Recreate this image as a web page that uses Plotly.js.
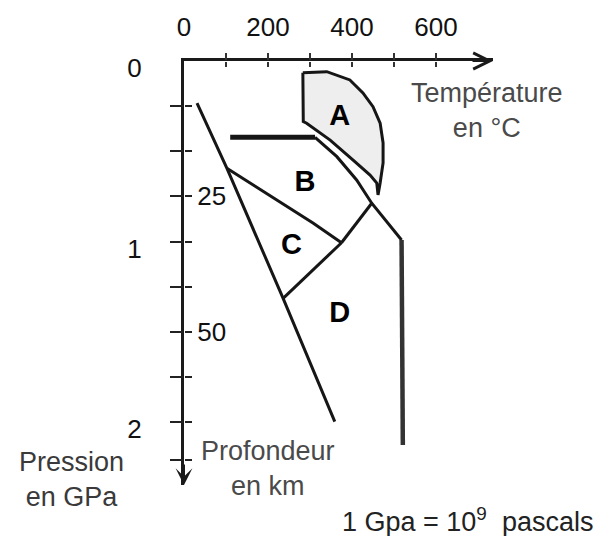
<!DOCTYPE html>
<html>
<head>
<meta charset="utf-8">
<script src="https://cdn.plot.ly/plotly-3.0.1.min.js"></script>
<style>html,body{margin:0;padding:0;background:#fff}#chart{width:609px;height:536px}</style>
</head>
<body>
<div id="chart"></div>
<script>
// ---- Axis ticks ----
const tempLabelVals = [0, 200, 400, 600];
const tempLabelText = ['0', '200', '400', '600'];
const tempTickVals = [100, 200, 300, 400, 500, 600];
const pressLabelVals = [0, 1, 2];
const pressLabelText = ['0', '1', '2'];
const pressTickVals = [0.25, 0.5, 0.75, 1, 1.25, 1.5, 1.75, 2, 2.21];
const depthTickText = ['', '', '25', '', '', '50', '', '', ''];

// ---- Domain A (°C, GPa) ----
const domainAT = [283, 340, 395, 426, 450, 467, 474, 474, 467, 462, 459, 443, 402, 348, 292, 284, 283];
const domainAP = [0.065, 0.059, 0.105, 0.177, 0.253, 0.344, 0.454, 0.565, 0.676, 0.742, 0.676, 0.632, 0.548, 0.438, 0.345, 0.336, 0.065];

// ---- Boundaries ----
const flatT = [110, 312];
const flatP = [0.423, 0.423];
const diagT = [312, 364, 411, 447, 518];
const diagP = [0.423, 0.530, 0.659, 0.788, 0.992];
const vertT = [518, 521];
const vertP = [0.992, 2.127];
const leftT = [31, 102, 236, 359];
const leftP = [0.233, 0.594, 1.315, 1.998];
const bcT = [102, 221, 308, 375];
const bcP = [0.594, 0.770, 0.899, 1.007];
const bdT = [375, 447];
const bdP = [1.007, 0.788];
const cdT = [375, 236];
const cdP = [1.007, 1.315];

// ---- Domain labels ----
const domainNames = ['A', 'B', 'C', 'D'];
const domainLabelT = [371, 288, 256, 371];
const domainLabelP = [0.316, 0.678, 1.029, 1.407];

const FONT = 'Liberation Sans, Arial, sans-serif';
const INK = '#161616';

function line(x, y, w, c) {
  return {type: 'scatter', mode: 'lines', x: x, y: y, line: {color: c || INK, width: w},
          hoverinfo: 'skip', xaxis: 'x', yaxis: 'y'};
}

const traces = [
  {type: 'scatter', mode: 'lines', x: domainAT, y: domainAP, fill: 'toself', fillcolor: '#eeeeee',
   line: {color: INK, width: 3}, hoverinfo: 'skip', xaxis: 'x', yaxis: 'y'},
  line(flatT, flatP, 5),
  line(diagT, diagP, 3),
  line(vertT, vertP, 4.5, '#333'),
  line(leftT, leftP, 3),
  line(bcT, bcP, 3),
  line(bdT, bdP, 3),
  line(cdT, cdP, 3),
  {type: 'scatter', mode: 'text', x: domainLabelT, y: domainLabelP, text: domainNames,
   textfont: {family: FONT, size: 29, color: '#000', weight: 700}, hoverinfo: 'skip', xaxis: 'x', yaxis: 'y'},
  // empty traces so the tick-only overlay axes get drawn
  {type: 'scatter', mode: 'markers', x: [null], y: [null], xaxis: 'x2', yaxis: 'y2', hoverinfo: 'skip'},
  {type: 'scatter', mode: 'markers', x: [null], y: [null], xaxis: 'x3', yaxis: 'y3', hoverinfo: 'skip'}
];

const xr = [0, 735.7];
const yr = [2.349, 0];

const layout = {
  width: 609, height: 536,
  margin: {l: 184, r: 116, t: 61, b: 51, pad: 0},
  paper_bgcolor: '#fff', plot_bgcolor: '#fff',
  showlegend: false,
  font: {family: FONT, color: '#111'},
  xaxis: {range: xr, side: 'top', showline: true, linecolor: '#1a1a1a', linewidth: 3,
          showgrid: false, zeroline: false, ticks: '', tickvals: tempLabelVals, ticktext: tempLabelText,
          ticklabelstandoff: 12, tickfont: {family: FONT, size: 26, color: '#111'}, fixedrange: true},
  xaxis2: {range: xr, overlaying: 'x', side: 'top', anchor: 'y2', showline: false, showgrid: false, zeroline: false,
           ticks: 'outside', ticklen: 7, tickwidth: 1.5, tickcolor: '#333', tickvals: tempTickVals, showticklabels: false},
  xaxis3: {range: xr, overlaying: 'x', side: 'bottom', anchor: 'free', position: 1, showline: false, showgrid: false, zeroline: false,
           ticks: 'outside', ticklen: 5, tickwidth: 1.5, tickcolor: '#333', tickvals: tempTickVals, showticklabels: false},
  yaxis: {range: yr, showline: true, linecolor: '#1a1a1a', linewidth: 3, showgrid: false, zeroline: false,
          ticks: '', tickvals: pressLabelVals, ticktext: pressLabelText, ticklabelstandoff: 34, ticklabelshift: -7,
          tickfont: {family: FONT, size: 26, color: '#111'}, fixedrange: true},
  yaxis2: {range: yr, overlaying: 'y', side: 'left', anchor: 'x2', showline: false, showgrid: false, zeroline: false,
           ticks: 'outside', ticklen: 13, tickwidth: 2, tickcolor: '#222', tickvals: pressTickVals, showticklabels: false},
  yaxis3: {range: yr, overlaying: 'y', side: 'right', anchor: 'free', position: 0, showline: false, showgrid: false, zeroline: false,
           ticks: 'outside', ticklen: 7, tickwidth: 2, tickcolor: '#222', tickvals: pressTickVals, ticktext: depthTickText,
           tickfont: {family: FONT, size: 26, color: '#111'}},
  annotations: [
    {xref: 'paper', yref: 'paper', x: 1, y: 1, ax: -22, ay: 0, axref: 'pixel', ayref: 'pixel', text: '',
     showarrow: true, arrowhead: 5, arrowsize: 1.6, arrowwidth: 2, arrowcolor: '#1a1a1a'},
    {xref: 'paper', yref: 'paper', x: 0, y: 0, ax: 0, ay: -22, axref: 'pixel', ayref: 'pixel', text: '',
     showarrow: true, arrowhead: 3, arrowsize: 1.4, arrowwidth: 2, arrowcolor: '#1a1a1a'},
    {xref: 'paper', yref: 'paper', x: (487 - 184) / 309, y: (485 - 110) / 424, xanchor: 'center', yanchor: 'middle',
     text: 'Température<br>en °C', showarrow: false, align: 'center', font: {family: FONT, size: 27, color: '#4a4a4a'}},
    {xref: 'paper', yref: 'paper', x: (71 - 184) / 309, y: (485 - 479) / 424, xanchor: 'center', yanchor: 'middle',
     text: 'Pression<br>en GPa', showarrow: false, align: 'center', font: {family: FONT, size: 27, color: '#3a3a3a'}},
    {xref: 'paper', yref: 'paper', x: (268 - 184) / 309, y: (485 - 468) / 424, xanchor: 'center', yanchor: 'middle',
     text: 'Profondeur<br>en km', showarrow: false, align: 'center', font: {family: FONT, size: 27, color: '#4a4a4a'}},
    {xref: 'paper', yref: 'paper', x: (467 - 184) / 309, y: (485 - 520) / 424, xanchor: 'center', yanchor: 'middle',
     text: '1 Gpa = 10<sup>9</sup>  pascals', showarrow: false, align: 'center', font: {family: FONT, size: 27, color: '#222'}}
  ]
};

Plotly.newPlot('chart', traces, layout, {displayModeBar: false, staticPlot: true});
</script>
</body>
</html>
